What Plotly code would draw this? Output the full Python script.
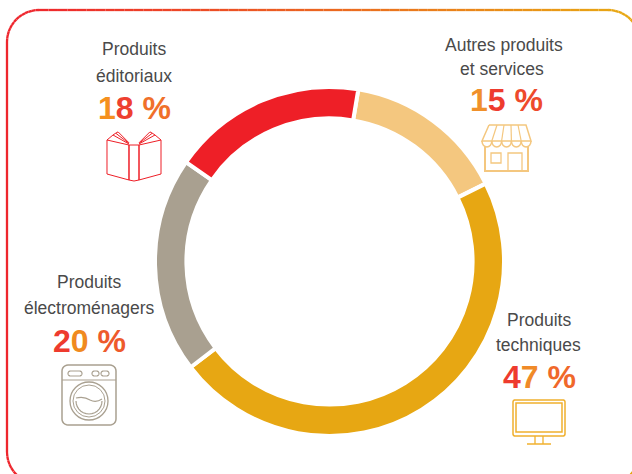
import math
import plotly.graph_objects as go

categories = ["Autres produits et services", "Produits techniques", "Produits électroménagers", "Produits éditoriaux"]
values = [15, 47, 20, 18]
slice_colors = ["#F4C77F", "#E7A713", "#A9A090", "#EE1F27"]
label_lines = [["Autres produits", "et services"], ["Produits", "techniques"], ["Produits", "électroménagers"], ["Produits", "éditoriaux"]]
pct_colors = [
    ["#F0902A", "#EE3B2E", None, "#EE4A2C", "#EE9A1E"],
    ["#EE3B2E", "#F08A28", None, "#F0682A", "#EE9A1E"],
    ["#EE3B2E", "#F08A20", None, "#EE5A2C", "#EE9A1E"],
    ["#F5901E", "#EE4030", None, "#F0702A", "#EE9A1E"],
]

W, H = 632, 474
fig = go.Figure()

cx, cy, R = 329.5, 261.5, 174.5
fig.add_trace(go.Pie(
    labels=categories, values=values, sort=False, direction="clockwise", rotation=9.5,
    hole=0.82, textinfo="none", showlegend=False,
    marker=dict(colors=slice_colors, line=dict(color="white", width=4)),
    domain=dict(x=[(cx - R) / W, (cx + R) / W], y=[1 - (cy + R) / H, 1 - (cy - R) / H]),
))

shapes = []
def X(p): return p / W
def Y(p): return 1 - p / H

def line(x0, y0, x1, y1, color, width=1):
    shapes.append(dict(type="line", xref="paper", yref="paper", x0=X(x0), y0=Y(y0), x1=X(x1), y1=Y(y1),
                       line=dict(color=color, width=width)))

def poly(pts, color, width=1, closed=False):
    d = "M " + " L ".join(f"{X(a):.5f},{Y(b):.5f}" for a, b in pts) + (" Z" if closed else "")
    shapes.append(dict(type="path", xref="paper", yref="paper", path=d, line=dict(color=color, width=width)))

def arc_pts(ax, ay, r, a0, a1, n=12, ry=None):
    ry = r if ry is None else ry
    return [(ax + r * math.cos(math.radians(a0 + (a1 - a0) * i / n)),
             ay + ry * math.sin(math.radians(a0 + (a1 - a0) * i / n))) for i in range(n + 1)]

def rrect(x0, y0, x1, y1, r, color, width=1):
    pts = arc_pts(x0 + r, y0 + r, r, 180, 270, 6) + arc_pts(x1 - r, y0 + r, r, 270, 360, 6) \
        + arc_pts(x1 - r, y1 - r, r, 0, 90, 6) + arc_pts(x0 + r, y1 - r, r, 90, 180, 6)
    poly(pts, color, width, True)

def circle(ax, ay, r, color, width=1):
    shapes.append(dict(type="circle", xref="paper", yref="paper", x0=X(ax - r), x1=X(ax + r), y0=Y(ay + r), y1=Y(ay - r),
                       line=dict(color=color, width=width)))

def mix(t):
    a, b = (238, 38, 45), (232, 167, 19)
    t = max(0, min(1, t))
    return "rgb(%d,%d,%d)" % tuple(round(a[i] + (b[i] - a[i]) * t) for i in range(3))

L, T, Rt, B, rad = 7, 10, 640, 484, 32
poly(arc_pts(Rt - rad - 1, B - rad + 2, rad, 0, 90, 12), "#BDBDBD", 3)
frame = arc_pts(L + rad, B - rad, rad, 90, 180, 12) + [(L, T + rad)] \
    + arc_pts(L + rad, T + rad, rad, 180, 270, 14)
for i in range(1, 60):
    frame.append((L + rad + (Rt - rad - L - rad) * i / 60, T))
frame += arc_pts(Rt - rad, T + rad, rad, 270, 360, 14)
for a, b in zip(frame, frame[1:]):
    line(a[0], a[1], b[0], b[1], mix(((a[0] + b[0]) / 2 - 30) / 590), 2.3)
poly(arc_pts(Rt - rad, B - rad, rad, 0, 90, 14), "#E7A713", 2.3)

# book
c = "#EE1F27"
poly([(107, 140), (107, 174), (129, 180), (129, 145)], c, 1, True)
poly([(139, 145), (139, 180), (161, 174), (161, 140)], c, 1, True)
poly([(129, 145), (129, 180), (134, 181), (139, 180), (139, 145), (129, 145)], c, 1)
for dx, dy in [(0, 0), (3, -2), (5, -4)]:
    poly([(129, 144 + dy * .3), (113 + dx, 135 + dy * .8)], c, 1)
    poly([(139, 144 + dy * .3), (155 - dx, 135 + dy * .8)], c, 1)
poly([(107, 140), (113, 135), (116, 133), (118, 132)], c, 1)
poly([(161, 140), (155, 135), (152, 133), (150, 132)], c, 1)

# shop
c = "#F4C77F"
poly([(485, 146), (485, 171), (528, 171), (528, 146)], c, 2)
poly([(491, 153), (501, 153), (501, 163), (491, 163)], c, 1.3, True)
poly([(508, 170), (508, 153), (522, 153), (522, 170)], c, 1.3)
poly([(489, 125), (526, 125), (531, 141), (482, 141), (489, 125)], c, 1.5)
for k in range(5):
    xa, xb = 482 + k * 9.8, 482 + (k + 1) * 9.8
    poly(arc_pts((xa + xb) / 2, 141, (xb - xa) / 2, 180, 0, 8, ry=6), c, 1.5)
for xt, xb in [(497, 491.8), (504, 501.6), (511, 511.4), (518, 521.2)]:
    poly([(xt, 125), (xb, 141)], c, 1.2)

# washing machine
c = "#A9A090"
rrect(62, 365, 116, 425, 6, c, 1.5)
line(62, 380, 116, 380, c, 1.2)
rrect(68, 371, 82, 376, 2.5, c, 1.2)
rrect(92, 371, 99, 376, 2.5, c, 1.2)
rrect(101, 371, 109, 376, 2.5, c, 1.2)
circle(89, 401, 19, c, 1.3)
circle(89, 401, 16, c, 1)
poly(arc_pts(89, 401, 13, 0, 180, 14), c, 1.2)
shapes.append(dict(type="path", xref="paper", yref="paper", line=dict(color=c, width=1.2),
    path=f"M {X(76):.5f},{Y(398):.5f} Q {X(84):.5f},{Y(396):.5f} {X(90):.5f},{Y(400):.5f} Q {X(96):.5f},{Y(403):.5f} {X(102):.5f},{Y(399):.5f}"))

# monitor
c = "#F0B02E"
rrect(513, 400, 565, 436, 2, c, 1.5)
poly([(516, 403), (562, 403), (562, 432), (516, 432)], c, 1.5, True)
poly([(535, 436), (535, 444)], c, 1.3)
poly([(543, 436), (543, 444)], c, 1.3)
line(527, 444, 551, 444, c, 1.5)

# texts
anns = []
body_font = "Liberation Sans"
positions = [
    ([(504, 45), (502, 69)], (506, 100)),
    ([(539, 320), (538, 345)], (539, 377)),
    ([(89, 282), (89, 308)], (89, 341)),
    ([(134, 49), (134, 76)], (134, 108)),
]
for i, (lines, (lpos, ppos)) in enumerate(zip(label_lines, positions)):
    for text, (px, py) in zip(lines, lpos):
        anns.append(dict(text=text, xref="paper", yref="paper", x=X(px), y=Y(py), showarrow=False,
                         xanchor="center", yanchor="middle",
                         font=dict(family=body_font, size=17.5, color="#4A4A4A")))
    s = f"{values[i]} %"
    rich = "".join(ch if col is None else f'<span style="color:{col}">{ch}</span>' for ch, col in zip(s, pct_colors[i]))
    anns.append(dict(text=f"<b>{rich}</b>", xref="paper", yref="paper", x=X(ppos[0]), y=Y(ppos[1]), showarrow=False,
                     xanchor="center", yanchor="middle",
                     font=dict(family=body_font, size=32, color="#EE6A2C")))

fig.update_layout(width=W, height=H, autosize=False, margin=dict(l=0, r=0, t=0, b=0),
                  paper_bgcolor="white", plot_bgcolor="white", shapes=shapes, annotations=anns)
fig.write_html("out.html", config=dict(displayModeBar=False),
               post_script="document.body.style.margin='0';document.body.style.overflow='hidden';")
